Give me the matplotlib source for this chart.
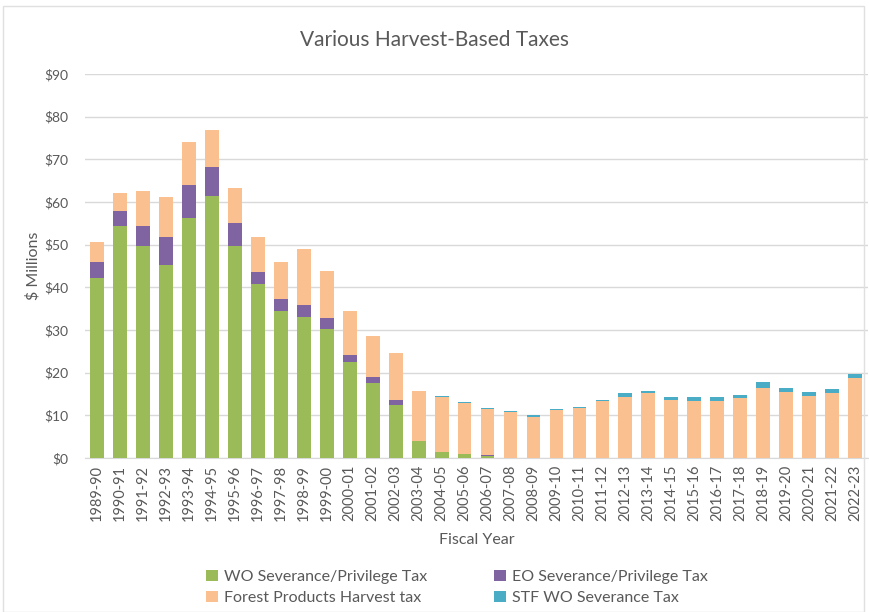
import numpy as np
import matplotlib.pyplot as plt
from matplotlib.patches import Rectangle

YEARS = ["1989-90", "1990-91", "1991-92", "1992-93", "1993-94", "1994-95",
         "1995-96", "1996-97", "1997-98", "1998-99", "1999-00", "2000-01",
         "2001-02", "2002-03", "2003-04", "2004-05", "2005-06", "2006-07",
         "2007-08", "2008-09", "2009-10", "2010-11", "2011-12", "2012-13",
         "2013-14", "2014-15", "2015-16", "2016-17", "2017-18", "2018-19",
         "2019-20", "2020-21", "2021-22", "2022-23"]

# $ millions
WO_SEV = [42.1, 54.4, 49.8, 45.2, 56.2, 61.4, 49.8, 40.9, 34.5, 33.0, 30.2,
          22.5, 17.6, 12.4, 4.0, 1.3, 0.9, 0.4, 0, 0, 0, 0, 0, 0,
          0, 0, 0, 0, 0, 0, 0, 0, 0, 0]
EO_SEV = [3.9, 3.5, 4.6, 6.5, 7.9, 6.9, 5.3, 2.8, 2.7, 2.9, 2.7,
          1.6, 1.4, 1.1, 0.1, 0, 0, 0.2, 0, 0, 0, 0, 0, 0,
          0, 0, 0, 0, 0, 0, 0, 0, 0, 0]
FOREST = [4.7, 4.3, 8.3, 9.4, 9.9, 8.7, 8.1, 8.0, 8.8, 13.1, 11.0,
          10.4, 9.6, 11.1, 11.6, 13.0, 12.0, 10.8, 10.7, 9.7, 11.3, 11.7,
          13.3, 14.4, 15.2, 13.6, 13.4, 13.4, 14.0, 16.5, 15.5, 14.5, 15.2, 18.7]
STF_WO = [0, 0, 0, 0, 0, 0, 0, 0, 0, 0, 0,
          0, 0, 0, 0, 0.3, 0.3, 0.4, 0.3, 0.3, 0.3, 0.3,
          0.4, 0.8, 0.6, 0.8, 0.8, 0.8, 0.8, 1.4, 0.8, 0.9, 0.9, 1.1]

C_GREEN = "#9bbb59"
C_PURPLE = "#8064a2"
C_ORANGE = "#fac090"
C_TEAL = "#4bacc6"
TXT = "#595959"

plt.rcParams["font.family"] = ["Lato", "DejaVu Sans"]

fig = plt.figure(figsize=(8.69, 6.12), dpi=100)
ax = fig.add_axes([0.098, 0.2516, 0.901, 0.6274])

x = np.arange(len(YEARS))
w = 0.6
wo = np.array(WO_SEV)
eo = np.array(EO_SEV)
fp = np.array(FOREST)
stf = np.array(STF_WO)

b1 = ax.bar(x, wo, w, color=C_GREEN, zorder=3)
b2 = ax.bar(x, eo, w, bottom=wo, color=C_PURPLE, zorder=3)
b3 = ax.bar(x, fp, w, bottom=wo + eo, color=C_ORANGE, zorder=3)
b4 = ax.bar(x, stf, w, bottom=wo + eo + fp, color=C_TEAL, zorder=3)

ax.set_xlim(-0.52, len(YEARS) - 0.43)
ax.set_ylim(0, 90)
ax.set_yticks(range(0, 91, 10))
ax.set_yticklabels([f"${v}" for v in range(0, 91, 10)])
ax.set_xticks(x)
ax.set_xticklabels(YEARS, rotation=90)
ax.tick_params(axis="both", length=0, colors=TXT, labelsize=10.5)
ax.tick_params(axis="y", pad=12, labelsize=10)
ax.tick_params(axis="x", pad=5)
ax.grid(axis="y", color="#d9d9d9", linewidth=1, zorder=0)
for s in ["top", "right", "left"]:
    ax.spines[s].set_visible(False)
ax.spines["bottom"].set_color("#d9d9d9")

ax.set_ylabel("$ Millions", color=TXT, fontsize=11.5, labelpad=3)
ax.set_xlabel("Fiscal Year", color=TXT, fontsize=11.5, labelpad=8)
fig.text(0.5, 0.935, "Various Harvest-Based Taxes", ha="center", va="center",
         fontsize=15, color=TXT)

fig.legend([b1, b3, b2, b4],
           ["WO Severance/Privilege Tax", "Forest Products Harvest tax",
            "EO Severance/Privilege Tax", "STF WO Severance Tax"],
           ncol=2, loc="center", bbox_to_anchor=(0.526, 0.04), frameon=False,
           fontsize=11.5, labelcolor=TXT, columnspacing=4.2, handlelength=0.7,
           handleheight=0.7, handletextpad=0.4, labelspacing=0.45)

fig.patches.append(Rectangle((0.004, 0.0), 0.99, 0.99, transform=fig.transFigure,
                             fill=False, edgecolor="#e0e0e0", linewidth=1))

fig.savefig("out.png", dpi=100, facecolor="white")
